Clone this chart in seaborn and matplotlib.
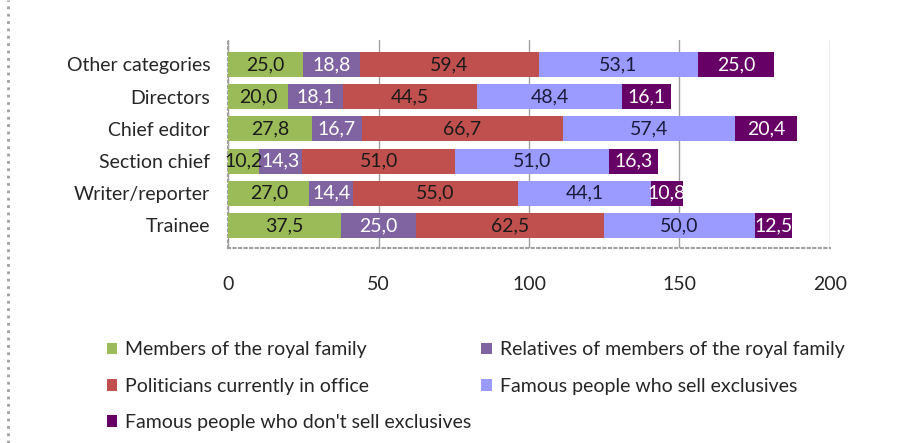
import matplotlib
matplotlib.use("Agg")
import matplotlib.pyplot as plt
import matplotlib.lines as mlines
import numpy as np
import pandas as pd
import seaborn as sns

# data
categories = ["Other categories", "Directors", "Chief editor", "Section chief",
              "Writer/reporter", "Trainee"]
series_names = ["Members of the royal family",
                "Relatives of members of the royal family",
                "Politicians currently in office",
                "Famous people who sell exclusives",
                "Famous people who don't sell exclusives"]
royal = [25.0, 20.0, 27.8, 10.2, 27.0, 37.5]
relatives = [18.8, 18.1, 16.7, 14.3, 14.4, 25.0]
politicians = [59.4, 44.5, 66.7, 51.0, 55.0, 62.5]
sell = [53.1, 48.4, 57.4, 51.0, 44.1, 50.0]
dont_sell = [25.0, 16.1, 20.4, 16.3, 10.8, 12.5]
x_ticks = [0, 50, 100, 150, 200]

colors = ["#9BBB59", "#8064A2", "#C0504D", "#9B9BFF", "#660066"]
text_colors = ["#1a1a1a", "white", "#1a1a1a", "#1a1a3a", "white"]

sns.set_style("white")
plt.rcParams["font.family"] = ["Lato", "DejaVu Sans"]
FS = 14

values = np.array([royal, relatives, politicians, sell, dont_sell])
cum = np.cumsum(values, axis=0)

fig = plt.figure(figsize=(9.02, 4.43), dpi=100)
ax = fig.add_axes([0.253, 0.4402, 0.667, 0.4695])

# stacked bars: draw the longest cumulative first, then shorter ones on top
for i in range(len(series_names) - 1, -1, -1):
    df = pd.DataFrame({"cat": categories, "val": cum[i]})
    sns.barplot(data=df, x="val", y="cat", color=colors[i], width=0.78,
                saturation=1, linewidth=0, ax=ax, label=series_names[i],
                zorder=3)

handles, labels = ax.get_legend_handles_labels()
if ax.get_legend() is not None:
    ax.get_legend().remove()

# segment labels
for i in range(len(series_names)):
    for j, cat in enumerate(categories):
        mid = cum[i][j] - values[i][j] / 2
        ax.text(mid, j, f"{values[i][j]:.1f}".replace(".", ","),
                ha="center", va="center", fontsize=FS,
                color=text_colors[i], zorder=5)

ax.set_xlim(0, 200)
ax.set_xticks(x_ticks)
ax.set_xticklabels([str(t) for t in x_ticks])
ax.set_xlabel("")
ax.set_ylabel("")
ax.set_ylim(5.70, -0.76)
ax.grid(axis="x", color="#a0a0a0", linewidth=1, zorder=0)
ax.grid(axis="y", visible=False)
ax.tick_params(axis="x", length=0, pad=20, labelsize=FS)
ax.tick_params(axis="y", length=0, pad=13, labelsize=FS)
for s in ["top", "right"]:
    ax.spines[s].set_visible(False)
for s in ["left", "bottom"]:
    ax.spines[s].set_color("#a0a0a0")
    ax.spines[s].set_linestyle(":")
    ax.spines[s].set_linewidth(1.5)

# legend, row-wise order
lookup = dict(zip(labels, handles))
order = [0, 2, 4, 1, 3]
fig.legend([lookup[series_names[k]] for k in order],
           [series_names[k] for k in order],
           ncol=2, loc="upper left", bbox_to_anchor=(0.099, 0.269),
           frameon=False, fontsize=FS, handlelength=0.55,
           handleheight=0.55, handletextpad=0.4, columnspacing=0.5,
           labelspacing=1.0)

# dotted border of the chart area
fig.add_artist(mlines.Line2D([0.009, 0.009], [0, 1], color="#a0a0a0",
                             linestyle=":", linewidth=2, transform=fig.transFigure))

fig.savefig("out.png", dpi=100)
